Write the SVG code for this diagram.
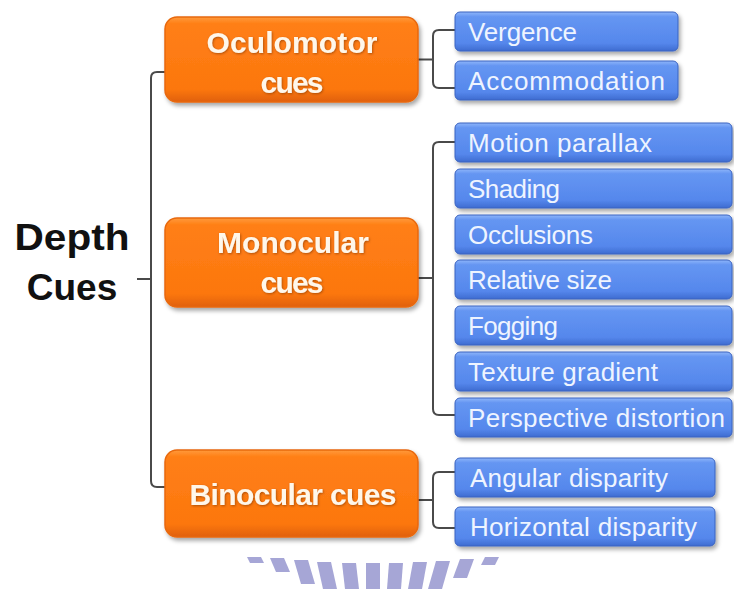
<svg xmlns="http://www.w3.org/2000/svg" width="734" height="589" viewBox="0 0 734 589">
  <defs>
    <linearGradient id="gOrange" x1="0" y1="0" x2="0" y2="1">
      <stop offset="0" stop-color="#ff9a3c"/>
      <stop offset="0.08" stop-color="#ff7f16"/>
      <stop offset="0.85" stop-color="#fc770e"/>
      <stop offset="1" stop-color="#e0600a"/>
    </linearGradient>
    <linearGradient id="gBlue" x1="0" y1="0" x2="0" y2="1">
      <stop offset="0" stop-color="#8fb6fa"/>
      <stop offset="0.12" stop-color="#6596f2"/>
      <stop offset="0.8" stop-color="#5587ec"/>
      <stop offset="1" stop-color="#3e6bd0"/>
    </linearGradient>
    <filter id="shadow" x="-10%" y="-20%" width="125%" height="150%">
      <feDropShadow dx="2" dy="3" stdDeviation="2" flood-color="#000" flood-opacity="0.35"/>
    </filter>
    <filter id="tshadow" x="-10%" y="-20%" width="120%" height="150%">
      <feDropShadow dx="0.8" dy="1" stdDeviation="0.8" flood-color="#7a3000" flood-opacity="0.6"/>
    </filter>
  </defs>
  <style>
    .cat rect { fill: url(#gOrange); stroke: #e8680e; stroke-width: 1.5; filter: url(#shadow); }
    .cat text { font-family: "Liberation Sans", Arial, sans-serif; font-weight: bold; font-size: 30px; fill: #fff7ea; text-anchor: middle; filter: url(#tshadow); }
    .cue rect { fill: url(#gBlue); stroke: #3b63c0; stroke-width: 1; filter: url(#shadow); }
    .cue text { font-family: "Liberation Sans", Arial, sans-serif; font-size: 26px; fill: #eef4ff; }
    .root text { font-family: "Liberation Sans", Arial, sans-serif; font-weight: bold; font-size: 37px; fill: #111; text-anchor: middle; }
    .links path { fill: none; stroke: #4a4a4a; stroke-width: 2; }
    .mark polygon { fill: #a6a6d6; }
  </style>

  <rect x="0" y="0" width="734" height="589" fill="#ffffff"/>

  <!-- faint emblem rays along the bottom edge -->
  <g id="watermark" class="mark">
    <polygon points="247,557 261,557 264,563 250,563"/>
    <polygon points="270,558 284,558 290,572 276,572"/>
    <polygon points="294,560 308,560 315,584 301,584"/>
    <polygon points="317,562 331,562 337,589 323,589"/>
    <polygon points="342,563 356,563 359,589 345,589"/>
    <polygon points="366,563 380,563 380,589 366,589"/>
    <polygon points="389,563 403,563 401,589 387,589"/>
    <polygon points="413,562 427,562 422,589 408,589"/>
    <polygon points="436,561 450,561 442,589 428,589"/>
    <polygon points="460,559 474,559 467,578 453,578"/>
    <polygon points="485,557 499,557 495,565 481,565"/>
  </g>

  <!-- connectors -->
  <g id="connectors" class="links">
    <path d="M137,279 H151"/>
    <path d="M165,72 H157 Q151,72 151,78 V481 Q151,487 157,487 H165"/>
    <path d="M418,59.5 H433"/>
    <path d="M455,30 H439 Q433,30 433,36 V82 Q433,88 439,88 H455"/>
    <path d="M418,278 H433"/>
    <path d="M455,142 H439 Q433,142 433,148 V409 Q433,415 439,415 H455"/>
    <path d="M418,500 H433"/>
    <path d="M455,472 H439 Q433,472 433,478 V522 Q433,528 439,528 H455"/>
  </g>

  <!-- root label -->
  <g id="depth-cues" class="root">
    <text x="72" y="250" textLength="115" lengthAdjust="spacingAndGlyphs">Depth</text>
    <text x="72" y="300">Cues</text>
  </g>

  <!-- categories -->
  <g id="oculomotor" class="cat">
    <rect x="165" y="17" width="253" height="85" rx="12"/>
    <text x="292" y="53" textLength="171">Oculomotor</text>
    <text x="292" y="93" textLength="63">cues</text>
  </g>
  <g id="monocular" class="cat">
    <rect x="165" y="218" width="253" height="89" rx="12"/>
    <text x="293" y="253" textLength="152">Monocular</text>
    <text x="292" y="293" textLength="63">cues</text>
  </g>
  <g id="binocular" class="cat">
    <rect x="165" y="450" width="253" height="87" rx="12"/>
    <text x="293" y="505" textLength="207">Binocular cues</text>
  </g>

  <!-- oculomotor cues -->
  <g id="vergence" class="cue">
    <rect x="455" y="12" width="223" height="39" rx="5"/>
    <text x="468" y="41" textLength="109">Vergence</text>
  </g>
  <g id="accommodation" class="cue">
    <rect x="455" y="61" width="223" height="39" rx="5"/>
    <text x="468" y="90" textLength="197">Accommodation</text>
  </g>

  <!-- monocular cues -->
  <g id="motion-parallax" class="cue">
    <rect x="455" y="123" width="277" height="39" rx="5"/>
    <text x="468" y="152" textLength="184">Motion parallax</text>
  </g>
  <g id="shading" class="cue">
    <rect x="455" y="169" width="277" height="39" rx="5"/>
    <text x="468" y="198" textLength="92">Shading</text>
  </g>
  <g id="occlusions" class="cue">
    <rect x="455" y="215" width="277" height="39" rx="5"/>
    <text x="468" y="244" textLength="125">Occlusions</text>
  </g>
  <g id="relative-size" class="cue">
    <rect x="455" y="260" width="277" height="39" rx="5"/>
    <text x="468" y="289" textLength="144">Relative size</text>
  </g>
  <g id="fogging" class="cue">
    <rect x="455" y="306" width="277" height="39" rx="5"/>
    <text x="468" y="335" textLength="90">Fogging</text>
  </g>
  <g id="texture-gradient" class="cue">
    <rect x="455" y="352" width="277" height="39" rx="5"/>
    <text x="468" y="381" textLength="190">Texture gradient</text>
  </g>
  <g id="perspective-distortion" class="cue">
    <rect x="455" y="398" width="277" height="39" rx="5"/>
    <text x="468" y="427" textLength="257">Perspective distortion</text>
  </g>

  <!-- binocular cues -->
  <g id="angular-disparity" class="cue">
    <rect x="455" y="458" width="260" height="39" rx="5"/>
    <text x="470" y="487" textLength="198">Angular disparity</text>
  </g>
  <g id="horizontal-disparity" class="cue">
    <rect x="455" y="507" width="260" height="39" rx="5"/>
    <text x="470" y="536" textLength="227">Horizontal disparity</text>
  </g>
</svg>
